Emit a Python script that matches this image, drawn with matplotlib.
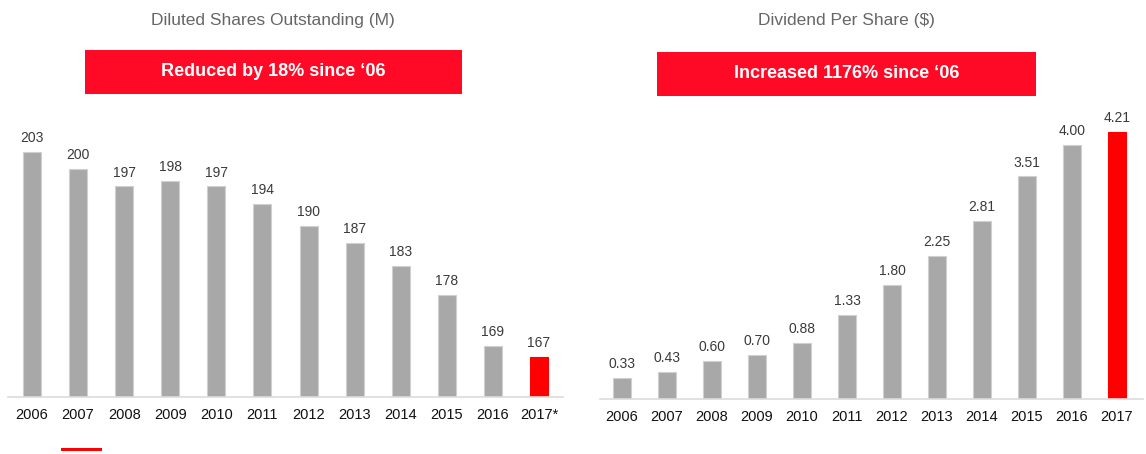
import numpy as np
import matplotlib.pyplot as plt
from matplotlib.patches import Rectangle

plt.rcParams['font.family'] = ['Liberation Sans', 'DejaVu Sans']

# data
years_left = ['2006', '2007', '2008', '2009', '2010', '2011', '2012', '2013',
              '2014', '2015', '2016', '2017*']
shares = [203, 200, 197, 198, 197, 194, 190, 187, 183, 178, 169, 167]
years_right = ['2006', '2007', '2008', '2009', '2010', '2011', '2012', '2013',
               '2014', '2015', '2016', '2017']
dividends = [0.33, 0.43, 0.60, 0.70, 0.88, 1.33, 1.80, 2.25, 2.81, 3.51, 4.00, 4.21]

W, H = 1146, 454
GRAY = '#a8a8a8'
RED = '#ff0000'
BANNER = '#ff0a26'

fig = plt.figure(figsize=(W / 100, H / 100), dpi=100)


def px_axes(x0, x1, ytop, ybot):
    return fig.add_axes([x0 / W, 1 - ybot / H, (x1 - x0) / W, (ybot - ytop) / H])


def style(ax, labels):
    for s in ['top', 'left', 'right']:
        ax.spines[s].set_visible(False)
    ax.spines['bottom'].set_color('#dcdcdc')
    ax.spines['bottom'].set_linewidth(1.2)
    ax.set_yticks([])
    ax.set_xticks(range(len(labels)), labels)
    ax.tick_params(axis='x', length=0, pad=8, labelsize=10.5, labelcolor='#111111')


def draw(ax, vals, labels, fmt, width):
    x = np.arange(len(vals))
    colors = [GRAY] * (len(vals) - 1) + [RED]
    edges = ['#d0d0d0'] * (len(vals) - 1) + [RED]
    bars = ax.bar(x, vals, width=width, color=colors, edgecolor=edges, linewidth=0.8)
    ax.bar_label(bars, labels=[fmt.format(v) for v in vals], padding=5,
                 fontsize=10, color='#3a3a3a')
    style(ax, labels)


# left chart
axl = px_axes(8, 563, 100, 397)
draw(axl, shares, years_left, '{:d}', 0.39)
axl.set_xlim(-0.52, 11.52)
axl.set_ylim(160, 212.2)

# right chart
axr = px_axes(600, 1143, 100, 399)
draw(axr, dividends, years_right, '{:.2f}', 0.40)
axr.set_xlim(-0.49, 11.58)
axr.set_ylim(0, 4.716)

# titles and banners
for cx, title, (bx0, bx1, by0, by1), msg in [
        (273, 'Diluted Shares Outstanding (M)', (85, 462, 50, 94), 'Reduced by 18% since \u201806'),
        (846, 'Dividend Per Share ($)', (657, 1036, 52, 96), 'Increased 1176% since \u201806')]:
    fig.text(cx / W, 1 - 20 / H, title, ha='center', va='center',
             fontsize=12.5, color='#666666')
    fig.patches.append(Rectangle((bx0 / W, 1 - by1 / H), (bx1 - bx0) / W, (by1 - by0) / H,
                                 transform=fig.transFigure, facecolor=BANNER,
                                 edgecolor='none'))
    fig.text((bx0 + bx1) / 2 / W, 1 - (by0 + by1) / 2 / H, msg, ha='center',
             va='center', fontsize=13, fontweight='bold', color='white')

# small red marker under the left chart
fig.patches.append(Rectangle((61 / W, 1 - 451 / H), 41 / W, 3 / H,
                             transform=fig.transFigure, facecolor=RED, edgecolor='none'))

fig.savefig('out.png', dpi=100)
